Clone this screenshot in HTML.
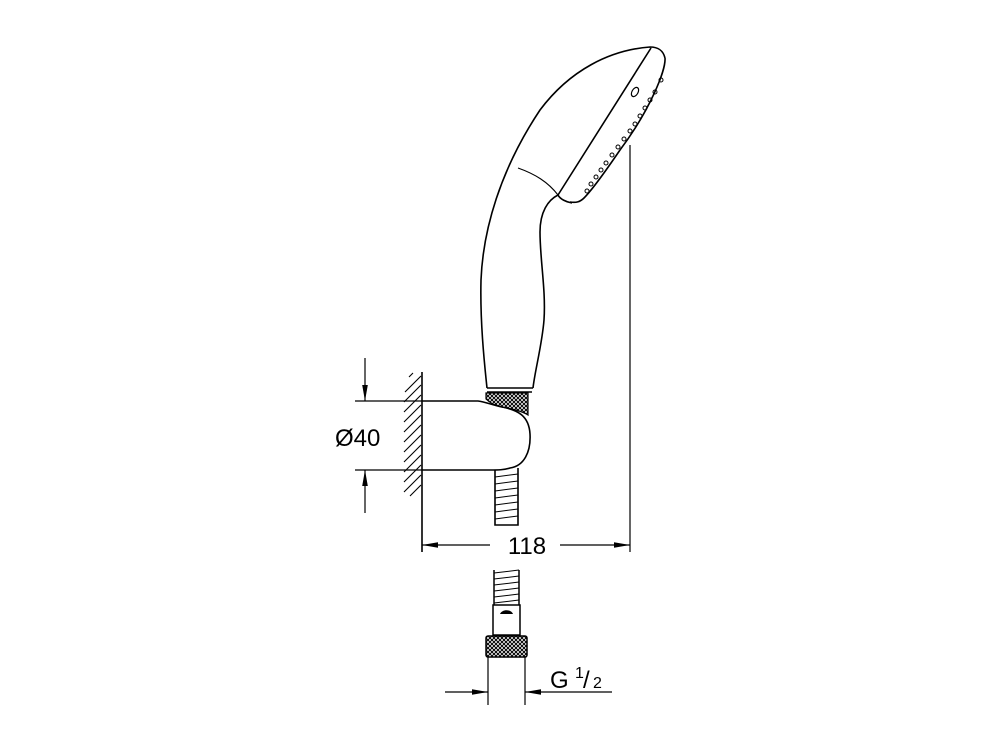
<!DOCTYPE html>
<html><head><meta charset="utf-8"><style>
html,body{margin:0;padding:0;background:#fff;}
svg{display:block;}
text{font-family:"Liberation Sans",Arial,sans-serif;fill:#000;}
</style></head><body>
<svg width="1000" height="750" viewBox="0 0 1000 750" xmlns="http://www.w3.org/2000/svg">
<defs>
<pattern id="knurl" width="4" height="4" patternUnits="userSpaceOnUse">
<rect width="4" height="4" fill="#fff"/>
<path d="M0 0L4 4M4 0L0 4" stroke="#000" stroke-width="1"/>
</pattern>
<marker id="ar" markerWidth="16" markerHeight="8" refX="16" refY="4" orient="auto" markerUnits="userSpaceOnUse">
<path d="M0 1.2L16 4L0 6.8Z" fill="#000"/>
</marker>
</defs>
<g fill="none" stroke="#000" stroke-width="1.6">
<path d="M487 388 C484 360 480 320 481 280 C483 230 500 170 540 110 C570 70 610 50 650 47 C658 47 663 50 665 58"/>
<path d="M665 58 C666 70 650 110 620 150 C605 172 592 190 584 198 C580 202 576 203 570 202"/>
<path d="M651 48 L558 195 C560 199 566 202 572 203"/>
<path d="M518 168 C535 174 548 182 558 195" stroke-width="1.1"/>
<path d="M558 195 C548 200 540 212 540 232 C540 260 546 290 544 320 C542 345 535 370 533 388"/>
<ellipse cx="635" cy="92" rx="3" ry="5" transform="rotate(30 635 92)" stroke-width="1.2"/>
<path d="M487 388 L533 388 M487 392 L532 392"/>
</g>
<g fill="none" stroke="#000" stroke-width="1">
<circle cx="661" cy="80" r="2"/><circle cx="655" cy="92" r="2"/><circle cx="650" cy="100" r="2"/>
<circle cx="645" cy="108" r="2"/><circle cx="640" cy="116" r="2"/><circle cx="635" cy="124" r="2"/>
<circle cx="630" cy="131" r="2"/><circle cx="624" cy="139" r="2"/><circle cx="618" cy="147" r="2"/>
<circle cx="612" cy="155" r="2"/><circle cx="606" cy="163" r="2"/><circle cx="601" cy="170" r="2"/>
<circle cx="596" cy="177" r="2"/><circle cx="591" cy="184" r="2"/><circle cx="587" cy="191" r="2"/>
</g>
<path d="M486 393 L528 393 L528 415 C522 411 512 409 502 407 C492 405 488 401 486 399 Z" fill="url(#knurl)" stroke="#000" stroke-width="1.2"/>
<g fill="none" stroke="#000" stroke-width="1.6">
<path d="M422 401 L478 401 C486 402 492 405 502 407 C518 410 529 416 530 434 C531 452 524 466 510 468 C504 470 498 470 490 470 L422 470"/>
<path d="M495 470 L495 525 L518 525 L518 468"/>
</g>
<g stroke="#000" stroke-width="1">
<path d="M495 477L518 474M495 484L518 481M495 491L518 488M495 498L518 495M495 505L518 502M495 512L518 509M495 519L518 516"/>
</g>
<g stroke="#000">
<path d="M422 372 L422 552" stroke-width="1.6"/>
<path d="M405 392L421 376M404 402L421 385M404 412L421 395M404 422L421 405M404 432L421 415M404 442L421 425M404 452L421 435M404 462L421 445M404 472L421 455M404 482L421 465M404 492L421 475M410 496L421 485M409 377L413 373" stroke-width="1.1"/>
</g>
<g stroke="#000" stroke-width="1.2" fill="none">
<path d="M355 401 L422 401 M355 470 L422 470"/>
<path d="M365 358 L365 401" marker-end="url(#ar)"/>
<path d="M365 513 L365 470" marker-end="url(#ar)"/>
</g>
<text x="335" y="446" font-size="24">Ø40</text>
<g stroke="#000" stroke-width="1.2" fill="none">
<path d="M630 145 L630 552"/>
<path d="M490 545 L422 545" marker-end="url(#ar)"/>
<path d="M560 545 L630 545" marker-end="url(#ar)"/>
</g>
<text x="527" y="554" font-size="24" text-anchor="middle">118</text>
<g fill="none" stroke="#000" stroke-width="1.5">
<path d="M494 570 L494 605 M519 570 L519 605"/>
<rect x="493" y="605" width="27" height="30"/>
</g>
<g stroke="#000" stroke-width="1">
<path d="M494 573L519 570M494 579L519 576M494 585L519 582M494 591L519 588M494 597L519 594M494 603L519 600"/>
</g>
<path d="M500 614 C502 609 511 609 513 614 Z" fill="#000"/>
<rect x="486" y="636" width="41" height="21" rx="2" fill="url(#knurl)" stroke="#000" stroke-width="1.5"/>
<g stroke="#000" stroke-width="1.2" fill="none">
<path d="M488 657 L488 705 M525 657 L525 705"/>
<path d="M445 692 L488 692" marker-end="url(#ar)"/>
<path d="M612 692 L525 692" marker-end="url(#ar)"/>
</g>
<text x="550" y="688" font-size="24">G</text>
<text x="575" y="678" font-size="16">1</text>
<text x="583" y="688" font-size="24">/</text>
<text x="593" y="688" font-size="16">2</text>
</svg>
</body></html>
